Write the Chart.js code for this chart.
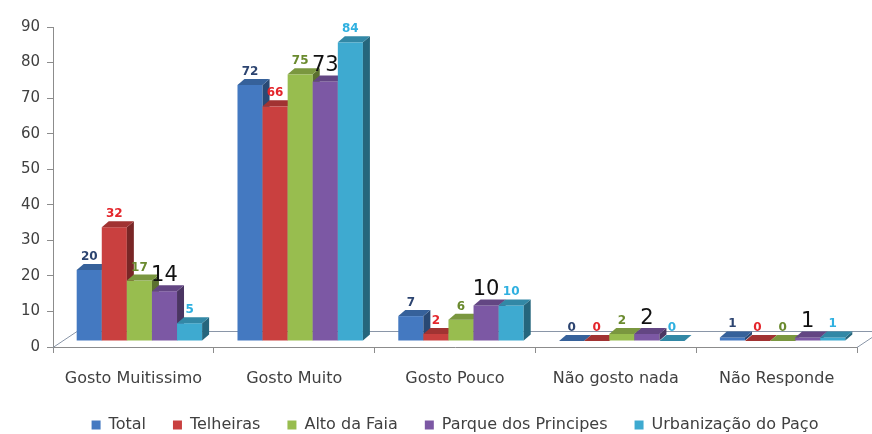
<!DOCTYPE html>
<html lang="pt">
<head>
<meta charset="UTF-8">
<title>Gosto</title>
<script src="https://cdn.jsdelivr.net/npm/chart.js"></script>
<style>
  body { margin: 0; background: #fff; }
</style>
</head>
<body>
<canvas id="chart" width="872" height="434"></canvas>
<script>
const categories = ['Gosto Muitissimo', 'Gosto Muito', 'Gosto Pouco', 'Não gosto nada', 'Não Responde'];
const seriesNames = ['Total', 'Telheiras', 'Alto da Faia', 'Parque dos Principes', 'Urbanização do Paço'];
const total = [20, 72, 7, 0, 1];
const telheiras = [32, 66, 2, 0, 0];
const altoDaFaia = [17, 75, 6, 2, 0];
const parqueDosPrincipes = [14, 73, 10, 2, 1];
const urbanizacaoDoPaco = [5, 84, 10, 0, 1];
const yMin = 0, yMax = 90, yStep = 10;

const barColors = ['#4479c1', '#c9403f', '#98bd4f', '#7c58a4', '#3eaad0'];
const labelColors = ['#2c4470', '#e4262c', '#6a8a2e', '#111111', '#2fb0e0'];
const labelFonts = ['bold 12px "DejaVu Sans"', 'bold 12px "DejaVu Sans"', 'bold 12px "DejaVu Sans"', '21px "DejaVu Sans"', 'bold 12px "DejaVu Sans"'];

function shade(hex, f) {
  const n = parseInt(hex.slice(1), 16);
  const r = Math.round(((n >> 16) & 255) * f), g = Math.round(((n >> 8) & 255) * f), b = Math.round((n & 255) * f);
  return 'rgb(' + Math.min(r, 255) + ',' + Math.min(g, 255) + ',' + Math.min(b, 255) + ')';
}

// bars drawn by hand as 3D blocks (from the bar elements), floor too
const bars3d = {
  id: 'bars3d',
  beforeDatasetsDraw(chart) {
    const ctx = chart.ctx;
    const area = chart.chartArea;
    // floor
    const fdx = 24, fdy = 16;
    ctx.save();
    ctx.strokeStyle = '#8a96a8';
    ctx.lineWidth = 1;
    ctx.beginPath();
    ctx.moveTo(area.left, area.bottom + 0.5);
    ctx.lineTo(area.left + fdx, area.bottom - fdy + 0.5);
    ctx.lineTo(area.right + fdx, area.bottom - fdy + 0.5);
    ctx.lineTo(area.right, area.bottom + 0.5);
    ctx.stroke();

    const ox = 6, oy = -6, dx = 7, dy = 6;
    ctx.translate(ox, oy);
    const n = chart.data.labels.length;
    for (let i = 0; i < n; i++) {
      chart.data.datasets.forEach((ds, d) => {
        const el = chart.getDatasetMeta(d).data[i];
        const left = el.x - el.width / 2, right = el.x + el.width / 2;
        const top = el.y, base = el.base;
        const c = barColors[d];
        ctx.fillStyle = c;
        ctx.fillRect(left, top, right - left, base - top);
        ctx.fillStyle = shade(c, 0.6);
        ctx.beginPath();
        ctx.moveTo(right, top); ctx.lineTo(right + dx, top - dy);
        ctx.lineTo(right + dx, base - dy); ctx.lineTo(right, base);
        ctx.closePath(); ctx.fill();
        ctx.fillStyle = shade(c, 0.8);
        ctx.beginPath();
        ctx.moveTo(left, top); ctx.lineTo(left + dx, top - dy);
        ctx.lineTo(right + dx, top - dy); ctx.lineTo(right, top);
        ctx.closePath(); ctx.fill();
      });
    }
    // value labels
    ctx.textAlign = 'center';
    ctx.textBaseline = 'alphabetic';
    chart.data.datasets.forEach((ds, d) => {
      chart.getDatasetMeta(d).data.forEach((el, i) => {
        ctx.font = labelFonts[d];
        ctx.fillStyle = labelColors[d];
        ctx.fillText(String(ds.data[i]), el.x, el.y - 10);
      });
    });
    ctx.restore();
    return false;
  }
};

const seriesData = [total, telheiras, altoDaFaia, parqueDosPrincipes, urbanizacaoDoPaco];

new Chart(document.getElementById('chart'), {
  type: 'bar',
  data: {
    labels: categories,
    datasets: seriesNames.map((name, d) => ({
      label: name,
      data: seriesData[d],
      backgroundColor: barColors[d],
      categoryPercentage: 0.78,
      barPercentage: 1
    }))
  },
  options: {
    responsive: false,
    animation: false,
    devicePixelRatio: 1,
    layout: { padding: { top: 27, right: 15, left: 0, bottom: -9 } },
    scales: {
      x: {
        grid: { display: true, offset: true, drawOnChartArea: false, tickLength: 6, color: '#8c8c8c' },
        border: { color: '#8c8c8c' },
        ticks: { color: '#404040', font: { family: 'DejaVu Sans', size: 16 }, padding: 16, maxRotation: 0 },
        afterFit(s) { s.height = 43; }
      },
      y: {
        min: yMin,
        max: yMax,
        grid: { display: true, drawOnChartArea: false, tickLength: 6, color: '#8c8c8c' },
        border: { color: '#8c8c8c' },
        ticks: { stepSize: yStep, color: '#404040', font: { family: 'DejaVu Sans', size: 15 }, padding: 7 },
        afterFit(s) { s.width = 53; }
      }
    },
    plugins: {
      tooltip: { enabled: false },
      legend: {
        position: 'bottom',
        fullSize: false,
        labels: {
          boxWidth: 9,
          boxHeight: 9,
          padding: 27,
          color: '#404040',
          font: { family: 'DejaVu Sans', size: 16 }
        }
      }
    }
  },
  plugins: [bars3d]
});
</script>
</body>
</html>
